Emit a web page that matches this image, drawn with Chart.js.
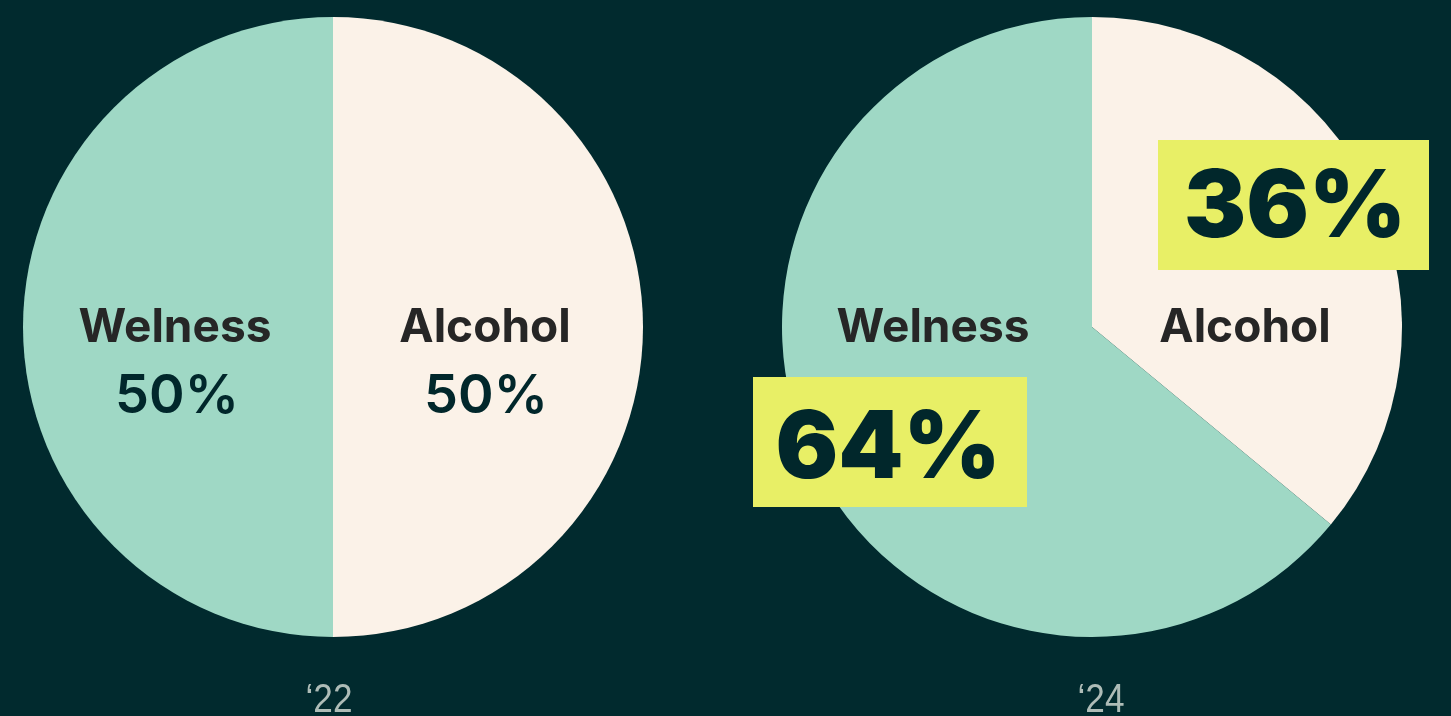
<!DOCTYPE html>
<html>
<head>
<meta charset="utf-8">
<script src="https://cdn.jsdelivr.net/npm/chart.js@4/dist/chart.umd.min.js"></script>
<style>
    html, body { margin: 0; padding: 0; background: #012a2e; overflow: hidden; }
    #wrap { position: relative; width: 1451px; height: 716px; }
    canvas { position: absolute; top: 0; }
</style>
</head>
<body>
<div id="wrap">
    <canvas id="pie22" width="725" height="716" style="left:0px"></canvas>
    <canvas id="pie24" width="726" height="716" style="left:725px"></canvas>
</div>
<script>
// Share of spend, alcohol vs wellness
var categories = ["Alcohol", "Welness"];
var share22 = [50, 50];
var share24 = [36, 64];
var years = ["\u201822", "\u201824"];

var sliceColors = ["#fbf2e8", "#9fd8c5"];

// Draws the slice names, the percentages and the year under each pie
var sliceLabels = {
    id: "sliceLabels",
    afterDatasetsDraw: function (chart, args, opts) {
        var ctx = chart.ctx;
        var arc = chart.getDatasetMeta(0).data[0];
        var cx = arc.x, cy = arc.y;
        var values = chart.data.datasets[0].data;

        ctx.save();
        ctx.textAlign = "center";
        ctx.textBaseline = "alphabetic";

        chart.data.labels.forEach(function (name, i) {
            var spot = opts.spots[i];
            ctx.fillStyle = "#262626";
            ctx.font = "700 46px Inter";
            ctx.fillText(name, cx + spot.nameX, cy + 15);

            var pct = values[i] + "%";
            if (spot.box) {
                var b = spot.box;
                ctx.fillStyle = "#e8ef66";
                ctx.fillRect(cx + b.x, cy + b.y, b.w, b.h);
                ctx.fillStyle = "#01272b";
                ctx.font = "900 93px Inter";
                ctx.fillText(pct, cx + spot.pctX, cy + spot.pctY);
            } else {
                ctx.fillStyle = "#01272b";
                ctx.font = "600 54px Inter";
                ctx.fillText(pct, cx + spot.pctX, cy + spot.pctY);
            }
        });

        // year tag, squeezed horizontally for a condensed look
        ctx.fillStyle = "#aebcb7";
        ctx.font = "40px 'Liberation Sans', Arial, sans-serif";
        ctx.translate(cx + opts.yearX, 712);
        ctx.scale(0.88, 1);
        ctx.fillText(opts.year, 0, 0);
        ctx.restore();
    }
};

function makePie(id, values, year, pad, spots, yearX) {
    return new Chart(document.getElementById(id).getContext("2d"), {
        type: "pie",
        data: {
            labels: categories,
            datasets: [{
                data: values,
                backgroundColor: sliceColors,
                borderWidth: 0,
                hoverOffset: 0
            }]
        },
        options: {
            responsive: false,
            animation: false,
            devicePixelRatio: 1,
            layout: { padding: pad },
            events: [],
            plugins: {
                legend: { display: false },
                tooltip: { enabled: false },
                sliceLabels: { spots: spots, year: year, yearX: yearX }
            }
        },
        plugins: [sliceLabels]
    });
}

makePie("pie22", share22, years[0],
    { left: 23, right: 82, top: 17, bottom: 79 },
    [
        { nameX: 152, pctX: 153, pctY: 86 },
        { nameX: -158, pctX: -156, pctY: 86 }
    ], -4);

makePie("pie24", share24, years[1],
    { left: 57, right: 49, top: 17, bottom: 79 },
    [
        { nameX: 153, pctX: 203, pctY: -90, box: { x: 66, y: -187, w: 271, h: 130 } },
        { nameX: -159, pctX: -204, pctY: 151, box: { x: -339, y: 50, w: 274, h: 130 } }
    ], 9);
</script>
</body>
</html>
